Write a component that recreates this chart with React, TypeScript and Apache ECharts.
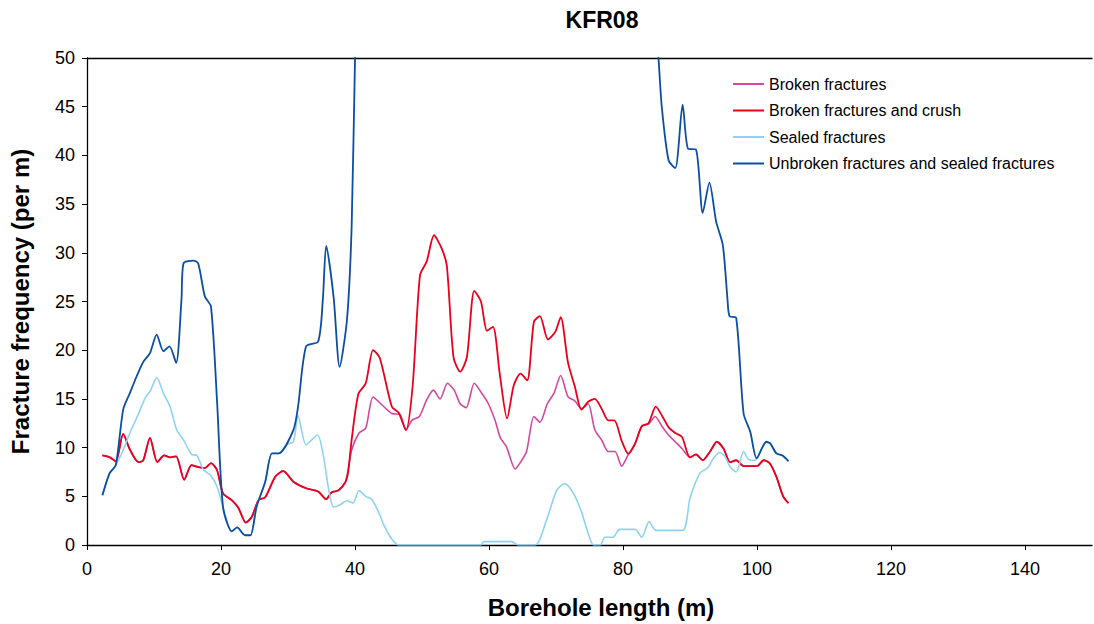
import React, { useEffect, useRef } from "react";
import * as echarts from "echarts";

const TITLE = "KFR08";
const X_NAME = "Borehole length (m)";
const Y_NAME = "Fracture frequency (per m)";
const SERIES_NAMES = [
  "Broken fractures",
  "Broken fractures and crush",
  "Sealed fractures",
  "Unbroken fractures and sealed fractures",
];

// Broken fractures and crush
const crushX = [2.3, 3.4, 4.3, 5.4, 6.4, 7.7, 8.4, 9.4, 10.5, 11.5, 12.4, 13.3, 14.5, 15.6, 16.6, 17.6, 18.5, 19.4, 20.3, 21.6, 22.6, 23.7, 24.6, 25.6, 26.6, 28.1, 29.3, 30.8, 32.8, 34.5, 35.7, 36.5, 37.5, 38.6, 39.0, 39.5, 40.5, 41.6, 42.7, 43.7, 45.5, 46.5, 47.6, 48.6, 49.7, 50.7, 51.8, 52.9, 53.7, 54.7, 55.7, 56.7, 57.8, 58.8, 59.7, 60.6, 61.6, 62.7, 63.7, 64.7, 65.7, 66.7, 67.6, 68.8, 69.9, 70.7, 71.8, 72.8, 73.8, 74.8, 75.8, 76.8, 77.8, 78.7, 79.8, 80.8, 81.8, 82.8, 83.8, 84.9, 85.8, 86.8, 87.8, 88.8, 90.0, 90.9, 91.9, 93.0, 94.0, 95.0, 96.0, 96.9, 98.0, 99.0, 100.0, 101.0, 101.9, 102.9, 103.9, 104.7];
const crushY = [9.2, 9.0, 8.6, 11.4, 9.8, 8.5, 8.7, 11.0, 8.5, 9.2, 9.0, 9.1, 6.7, 8.2, 8.0, 7.9, 8.4, 7.7, 5.3, 4.6, 3.8, 2.3, 2.9, 4.6, 4.9, 7.0, 7.6, 6.5, 5.8, 5.5, 4.7, 5.4, 5.6, 6.5, 7.6, 10.8, 15.5, 16.6, 20.0, 19.2, 14.2, 13.6, 11.8, 16.3, 27.7, 29.1, 31.8, 30.5, 28.7, 19.3, 17.8, 19.3, 26.1, 25.0, 22.0, 22.4, 17.6, 13.0, 16.4, 17.6, 16.9, 22.9, 23.5, 21.1, 21.9, 23.4, 18.7, 16.3, 13.9, 14.7, 15.0, 14.0, 12.8, 12.8, 10.7, 9.35, 10.4, 12.2, 12.5, 14.2, 13.3, 12.1, 11.5, 11.1, 9.0, 9.3, 8.7, 9.6, 10.6, 9.9, 8.5, 8.7, 8.1, 8.1, 8.1, 8.7, 8.4, 7.0, 5.0, 4.3];

// Broken fractures
const brokenX = [2.3, 3.4, 4.3, 5.4, 6.4, 7.7, 8.4, 9.4, 10.5, 11.5, 12.4, 13.3, 14.5, 15.6, 16.6, 17.6, 18.5, 19.4, 20.3, 21.6, 22.6, 23.7, 24.6, 25.6, 26.6, 28.1, 29.3, 30.8, 32.8, 34.5, 35.7, 36.5, 37.5, 38.6, 39.5, 40.6, 41.6, 42.7, 44.0, 45.5, 46.7, 47.6, 48.5, 49.6, 50.7, 51.7, 52.7, 53.8, 54.8, 55.7, 56.6, 57.8, 58.9, 59.9, 60.9, 61.7, 62.6, 63.9, 64.6, 65.6, 66.7, 67.6, 68.7, 69.7, 70.7, 71.8, 72.8, 73.8, 74.8, 75.8, 76.8, 77.8, 78.8, 79.8, 80.8, 81.8, 82.8, 83.8, 84.8, 85.8, 86.8, 87.8, 88.8, 90.0, 90.9, 91.9, 93.0, 94.0, 95.0, 96.0, 96.9, 98.0, 99.0, 100.0, 101.0, 101.9, 102.9, 103.9, 104.7];
const brokenY = [9.2, 9.0, 8.6, 11.4, 9.8, 8.5, 8.7, 11.0, 8.5, 9.2, 9.0, 9.1, 6.7, 8.2, 8.0, 7.9, 8.4, 7.7, 5.3, 4.6, 3.8, 2.3, 2.9, 4.6, 4.9, 7.0, 7.6, 6.5, 5.8, 5.5, 4.7, 5.4, 5.6, 6.5, 9.75, 11.5, 12.0, 15.2, 14.4, 13.5, 13.4, 11.8, 12.8, 13.2, 14.9, 15.9, 15.0, 16.6, 15.9, 14.5, 14.1, 16.6, 15.6, 14.5, 12.8, 11.0, 10.1, 7.8, 8.4, 9.6, 13.2, 12.6, 14.5, 15.6, 17.4, 15.2, 14.8, 14.0, 14.5, 11.8, 10.8, 9.6, 9.6, 8.1, 9.3, 10.4, 12.2, 12.4, 13.2, 12.2, 11.3, 10.6, 9.9, 9.0, 9.3, 8.7, 9.6, 10.6, 9.9, 8.5, 8.7, 8.1, 8.1, 8.1, 8.7, 8.4, 7.0, 5.0, 4.3];

// Sealed fractures
const sealedX = [2.3, 3.4, 4.3, 5.4, 6.4, 7.7, 8.7, 9.5, 10.4, 11.4, 12.4, 13.4, 14.4, 15.6, 16.4, 17.4, 18.4, 19.4, 20.3, 21.6, 22.4, 23.6, 24.4, 25.3, 26.6, 27.6, 28.6, 29.8, 30.8, 31.5, 32.7, 34.4, 35.3, 36.0, 36.8, 37.7, 38.8, 39.7, 40.6, 41.6, 42.5, 43.7, 44.2, 45.2, 46.0, 46.5, 58.8, 59.2, 63.4, 64.4, 66.9, 68.6, 70.1, 71.3, 72.6, 73.8, 74.8, 75.6, 76.6, 77.3, 78.5, 79.5, 81.8, 82.8, 83.9, 84.9, 88.9, 90.0, 91.5, 92.6, 93.5, 94.4, 95.2, 96.0, 96.9, 98.0, 98.7, 99.7, 100.0, 101.4, 102.0, 102.9, 103.8, 104.7];
const sealedY = [5.1, 7.4, 8.2, 9.75, 11.5, 13.5, 15.1, 15.9, 17.2, 15.6, 14.2, 11.8, 10.8, 9.3, 9.2, 7.7, 7.2, 6.0, 3.9, 1.4, 1.8, 1.0, 1.0, 3.9, 6.5, 9.4, 9.4, 10.3, 10.6, 13.3, 10.3, 11.3, 9.1, 6.0, 3.9, 4.1, 4.55, 4.3, 5.6, 5.0, 4.7, 3.1, 2.2, 0.9, 0.2, 0, 0, 0.35, 0.35, 0, 0, 2.6, 5.6, 6.3, 5.3, 3.4, 1.2, 0, 0, 0.8, 0.8, 1.6, 1.6, 0.8, 2.4, 1.5, 1.5, 4.8, 7.4, 7.9, 8.9, 9.5, 9.1, 8.0, 7.5, 9.6, 8.8, 8.7, 8.9, 10.6, 10.4, 9.4, 9.2, 8.6];

// Unbroken fractures and sealed fractures (values above 50 run off the top of the chart)
const unbrokenX = [2.3, 3.4, 4.3, 5.4, 6.4, 7.4, 8.4, 9.4, 10.4, 11.4, 12.3, 13.3, 14.1, 14.4, 15.9, 16.6, 17.6, 18.5, 19.4, 20.3, 21.6, 22.4, 23.6, 24.4, 25.3, 26.6, 27.6, 28.6, 30.8, 31.5, 32.7, 34.5, 35.2, 35.7, 36.8, 37.7, 38.8, 39.5, 40.0, 40.4, 42.0, 50.0, 60.0, 70.0, 80.0, 84.0, 84.9, 85.3, 85.8, 86.8, 87.8, 88.9, 89.7, 90.9, 91.9, 92.9, 93.9, 94.9, 95.6, 95.9, 96.9, 98.0, 99.0, 99.95, 101.4, 102.0, 102.9, 103.8, 104.7];
const unbrokenY = [5.1, 7.4, 8.2, 13.9, 15.6, 17.3, 18.8, 19.7, 21.6, 19.9, 20.4, 18.7, 25.2, 28.9, 29.2, 28.9, 25.5, 24.5, 14.9, 3.9, 1.4, 1.8, 1.0, 1.0, 3.9, 6.5, 9.4, 9.4, 11.8, 14.2, 20.4, 20.9, 25.2, 30.7, 25.5, 18.3, 23.1, 32.7, 49.8, 58, 70, 85, 90, 88, 75, 62, 54, 50, 44.9, 39.5, 38.7, 45.2, 40.7, 40.6, 34.1, 37.2, 33.2, 30.8, 25.2, 23.5, 23.3, 13.5, 11.6, 8.9, 10.6, 10.4, 9.4, 9.2, 8.6];

const X_MIN = 0;
const X_MAX = 150;
const X_STEP = 20;
const Y_MIN = 0;
const Y_MAX = 50;
const Y_STEP = 5;

const COLORS = ["#D4489E", "#E8001C", "#8DD3EF", "#0B4EA2"];

const zip = (xs: number[], ys: number[]) => xs.map((x, i) => [x, ys[i]]);

const FONT = "'Liberation Sans', Arial, Helvetica, sans-serif";

export default function App() {
  const ref = useRef<HTMLDivElement>(null);

  useEffect(() => {
    document.body.style.margin = "0";
    if (!ref.current) return;
    const chart = echarts.init(ref.current, undefined, { renderer: "svg" });
    const datasets = [
      zip(brokenX, brokenY),
      zip(crushX, crushY),
      zip(sealedX, sealedY),
      zip(unbrokenX, unbrokenY),
    ];
    const widths = [1.6, 1.8, 1.6, 1.8];
    chart.setOption({
      animation: false,
      backgroundColor: "#ffffff",
      textStyle: { fontFamily: FONT },
      title: {
        text: TITLE,
        left: 597,
        top: 3,
        textAlign: "center",
        textStyle: { fontFamily: FONT, fontSize: 23, fontWeight: "bold", color: "#000" },
      },
      legend: {
        orient: "vertical",
        left: 727,
        top: 71,
        itemWidth: 31,
        itemHeight: 16,
        itemGap: 10.5,
        data: SERIES_NAMES,
        itemStyle: { opacity: 0 },
        textStyle: { fontFamily: FONT, fontSize: 16, color: "#000" },
      },
      grid: { left: 87, top: 58, right: 2, bottom: 79, outerBoundsMode: "none" },
      xAxis: [
        {
          type: "value",
          min: X_MIN,
          max: X_MAX,
          interval: X_STEP,
          name: X_NAME,
          nameLocation: "middle",
          nameGap: 50,
          nameTextStyle: {
            fontFamily: FONT,
            fontSize: 24,
            fontWeight: "bold",
            color: "#000",
            padding: [0, 0, 0, 23],
          },
          axisLine: { show: true, lineStyle: { color: "#000", width: 1.3 } },
          axisTick: { show: true, inside: false, length: 5, lineStyle: { color: "#000" } },
          axisLabel: { fontFamily: FONT, fontSize: 18, color: "#000", margin: 15, showMaxLabel: false },
          splitLine: { show: false },
        },
        {
          type: "value",
          position: "top",
          min: X_MIN,
          max: X_MAX,
          axisLine: { show: true, lineStyle: { color: "#000", width: 1.3 } },
          axisTick: { show: false },
          axisLabel: { show: false },
          splitLine: { show: false },
        },
      ],
      yAxis: {
        type: "value",
        min: Y_MIN,
        max: Y_MAX,
        interval: Y_STEP,
        name: Y_NAME,
        nameLocation: "middle",
        nameGap: 55,
        nameTextStyle: { fontFamily: FONT, fontSize: 24, fontWeight: "bold", color: "#000" },
        axisLine: { show: true, lineStyle: { color: "#000", width: 1.3 } },
        axisTick: { show: true, inside: false, length: 5, lineStyle: { color: "#000" } },
        axisLabel: { fontFamily: FONT, fontSize: 18, color: "#000", margin: 12 },
        splitLine: { show: false },
      },
      series: SERIES_NAMES.map((name, i) => ({
        name,
        type: "line",
        xAxisIndex: 0,
        data: datasets[i],
        symbol: "none",
        smooth: 0.25,
        clip: true,
        lineStyle: { color: COLORS[i], width: widths[i] },
        itemStyle: { color: COLORS[i] },
        z: 2 + i,
      })),
    });
    return () => chart.dispose();
  }, []);

  return (
    <div
      ref={ref}
      style={{ position: "absolute", left: 0, top: 0, width: 1094, height: 624 }}
    />
  );
}
